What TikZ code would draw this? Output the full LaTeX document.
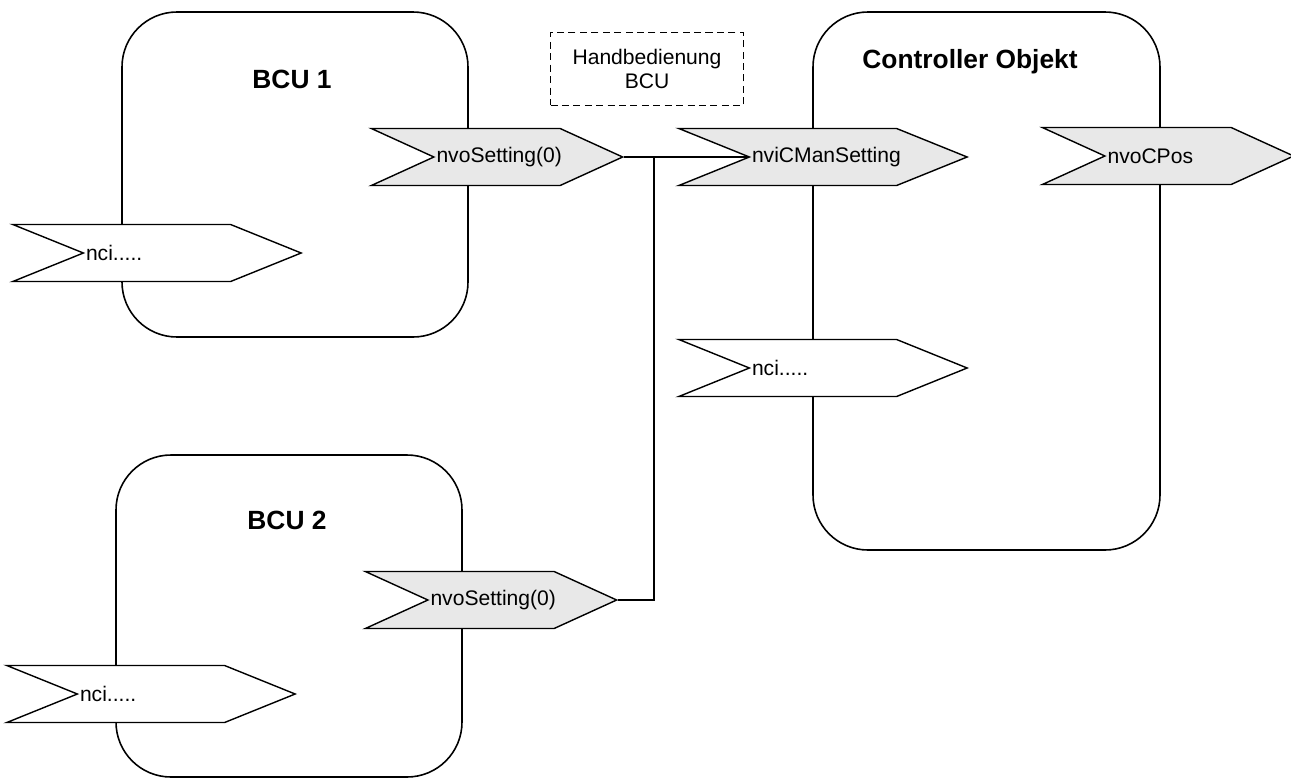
\documentclass[tikz,border=0pt]{standalone}
\usepackage{fontspec}
\setmainfont{Liberation Sans}
\usetikzlibrary{shapes.symbols}

\definecolor{signalgrau}{HTML}{E8E8E8}

\tikzset{
  objekt/.style={draw, line width=0.9pt, rounded corners=1.1cm},
  titel/.style={font=\fontsize{15}{18}\selectfont\bfseries},
  netvar/.style={shape=signal, signal from=west, signal to=east, draw, fill=white, line width=0.8pt,
    minimum height=1.14cm, inner xsep=1.5pt, inner ysep=0pt, align=left,
    font=\fontsize{12}{14}\selectfont},
  kurz/.style={netvar, signal pointer angle=49, text width=2.42cm},
  lang/.style={netvar, signal pointer angle=44, text width=2.84cm},
  ausgang/.style={fill=signalgrau},
  hand/.style={draw, dash pattern=on 4pt off 2.5pt, line width=0.9pt, minimum width=3.86cm,
    minimum height=1.46cm, align=center, font=\fontsize{12}{14}\selectfont},
  leitung/.style={line width=0.8pt}
}

\begin{document}
\begin{tikzpicture}[x=0.02cm, y=-0.02cm]
  \useasboundingbox (0,0) rectangle (1291,778);

  % Objekt BCU 1
  \draw[objekt] (122,12) rectangle (468,337);
  \node[titel] (bcu1) at (292,79) {BCU 1};
  \node[kurz, ausgang] (set1) at (497,157) {nvoSetting(0)};
  \node[lang] (nci1) at (157,253) {nci.....};

  % Objekt BCU 2
  \draw[objekt] (116,455) rectangle (462,777);
  \node[titel] (bcu2) at (287,520) {BCU 2};
  \node[kurz, ausgang] (set2) at (491,600) {nvoSetting(0)};
  \node[lang] (nci2) at (151,694) {nci.....};

  % Controller Objekt
  \draw[objekt] (813,12) rectangle (1160,550);
  \node[titel] (ctrl) at (970,62) {Controller Objekt};
  \node[lang, ausgang] (manset) at (823,157) {nviCManSetting};
  \node[kurz, ausgang] (cpos) at (1168,156) {nvoCPos};
  \node[lang] (nci3) at (823,368) {nci.....};

  % Handbedienung
  \node[hand] (handbcu) at (647,69) {Handbedienung\\BCU};

  % Verbindungen
  \coordinate (knoten) at (654,157);
  \draw[leitung] (set1.east) -- (manset.west);
  \draw[leitung] (set2.east) -| (knoten);

\end{tikzpicture}
\end{document}
